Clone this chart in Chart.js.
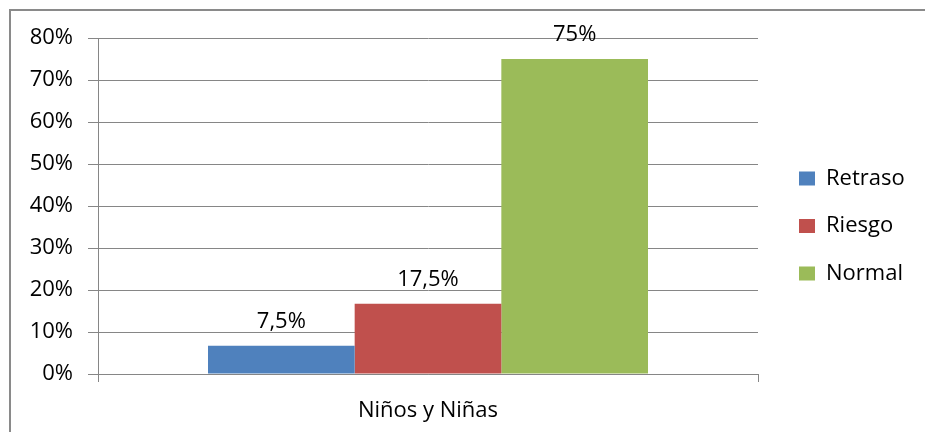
<!DOCTYPE html>
<html>
<head>
<meta charset="utf-8">
<script src="https://cdn.jsdelivr.net/npm/chart.js@4.4.1/dist/chart.umd.min.js"></script>
<style>
  html, body { margin: 0; padding: 0; background: #ffffff; }
  #wrap { width: 925px; height: 432px; position: relative; }
</style>
</head>
<body>
<div id="wrap"><canvas id="c" width="925" height="432"></canvas></div>
<script>
const categories = ['Niños y Niñas'];
const seriesNames = ['Retraso', 'Riesgo', 'Normal'];
const retrasoValues = [6.7];
const riesgoValues = [16.7];
const normalValues = [75];
const valueLabels = ['7,5%', '17,5%', '75%'];
const yTickValues = [0, 10, 20, 30, 40, 50, 60, 70, 80];

const seriesColors = ['#4F81BD', '#C0504D', '#9BBB59'];
const gridColor = '#868686';
const FONT = '"Open Sans", "DejaVu Sans", sans-serif';

const framePlugin = {
  id: 'frame',
  beforeDraw(chart) {
    const ctx = chart.ctx;
    ctx.save();
    ctx.strokeStyle = '#8a8a8a';
    ctx.lineWidth = 2;
    ctx.beginPath();
    ctx.moveTo(10, 432);
    ctx.lineTo(10, 10);
    ctx.lineTo(925, 10);
    ctx.stroke();
    ctx.restore();
  }
};

const valueLabelPlugin = {
  id: 'valueLabels',
  afterDatasetsDraw(chart) {
    const ctx = chart.ctx;
    ctx.save();
    ctx.font = '22px ' + FONT;
    ctx.fillStyle = '#000000';
    ctx.textAlign = 'center';
    ctx.textBaseline = 'middle';
    chart.data.datasets.forEach((ds, i) => {
      const meta = chart.getDatasetMeta(i);
      meta.data.forEach((bar) => {
        ctx.fillText(valueLabels[i], bar.x, bar.y - 24.5);
      });
    });
    ctx.restore();
  }
};

const legendPlacePlugin = {
  id: 'legendPlace',
  afterLayout(chart) {
    const lg = chart.legend;
    if (!lg) return;
    const w = lg.width, h = lg.height;
    lg.left = 773.5;
    lg.right = lg.left + w;
    lg.top = 142;
    lg.bottom = lg.top + h;
  }
};

new Chart(document.getElementById('c'), {
  type: 'bar',
  data: {
    labels: categories,
    datasets: [
      { label: seriesNames[0], data: retrasoValues, backgroundColor: seriesColors[0] },
      { label: seriesNames[1], data: riesgoValues, backgroundColor: seriesColors[1] },
      { label: seriesNames[2], data: normalValues, backgroundColor: seriesColors[2] }
    ]
  },
  options: {
    responsive: false,
    animation: false,
    devicePixelRatio: 1,
    layout: { padding: { left: 10, top: 38, right: 167, bottom: 10 } },
    datasets: { bar: { categoryPercentage: 3 / 4.5, barPercentage: 1.0, borderWidth: 0 } },
    plugins: {
      legend: {
        position: 'chartArea',
        align: 'start',
        labels: {
          boxWidth: 16,
          boxHeight: 14,
          padding: 25.5,
          color: '#000000',
          font: { family: FONT, size: 22 }
        }
      },
      tooltip: { enabled: false }
    },
    scales: {
      x: {
        offset: true,
        grid: { display: true, offset: true, drawOnChartArea: false, drawTicks: true, tickLength: 8, color: gridColor, lineWidth: 1 },
        border: { display: true, color: gridColor, width: 1 },
        ticks: { color: '#000000', font: { family: FONT, size: 22 }, padding: 16, maxRotation: 0 },
        afterFit(scale) { scale.height = 48; }
      },
      y: {
        min: 0,
        max: 80,
        afterBuildTicks(scale) { scale.ticks = yTickValues.map(v => ({ value: v })); },
        grid: { color: gridColor, lineWidth: 1, tickLength: 10, drawTicks: true },
        border: { display: true, color: gridColor, width: 1 },
        ticks: {
          color: '#000000',
          font: { family: FONT, size: 22 },
          padding: 15,
          callback: (v) => v + '%'
        },
        afterFit(scale) { scale.width = 88; }
      }
    }
  },
  plugins: [framePlugin, valueLabelPlugin, legendPlacePlugin]
});
</script>
</body>
</html>
